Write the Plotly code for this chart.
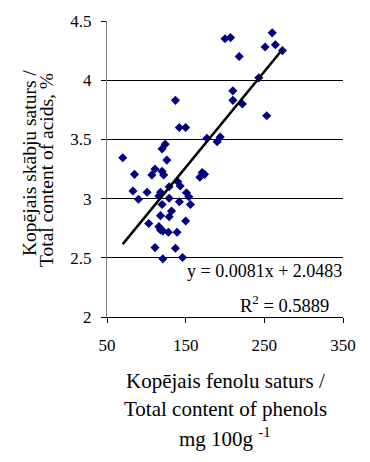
import plotly.graph_objects as go

# Total phenol content (mg 100 g-1) and total acid content (%) per sample
phenols = [260, 264, 251, 273, 200, 207, 218, 243, 210, 210, 222, 253,
           137, 142, 150, 177, 190, 194, 70, 124, 120, 126, 111, 120,
           107, 122, 171, 174, 168, 85, 83, 101, 90, 118, 116, 129,
           140, 143, 151, 154, 156, 129, 142, 120, 132, 118, 129, 103,
           150, 116, 118, 121, 128, 139, 111, 137, 121, 146]
acids = [4.40, 4.30, 4.28, 4.25, 4.35, 4.36, 4.20, 4.02, 3.91, 3.83, 3.80, 3.70,
         3.83, 3.60, 3.60, 3.51, 3.48, 3.52, 3.345, 3.46, 3.42, 3.325, 3.25, 3.23,
         3.20, 3.20, 3.22, 3.205, 3.18, 3.205, 3.064, 3.053, 2.994, 3.053, 3.022, 3.10,
         3.142, 3.106, 3.05, 3.016, 2.95, 3.003, 2.974, 2.95, 2.895, 2.856, 2.847, 2.79,
         2.811, 2.763, 2.735, 2.727, 2.716, 2.716, 2.586, 2.581, 2.491, 2.502]

# Linear trend as reported
slope = 0.0081
intercept = 2.0483
r_squared = 0.5889

x_ticks = [50, 150, 250, 350]
y_ticks = [2, 2.5, 3, 3.5, 4, 4.5]

W, H = 370, 462
L, R, T, B = 107, 27, 21, 145
PW, PH = W - L - R, H - T - B


def px_x(p):
    return (p - L) / PW


def px_y(p):
    return (H - B - p) / PH


SERIF = "Liberation Serif, Times New Roman, serif"

trend_x = [min(phenols), max(phenols)]
trend_y = [slope * v + intercept for v in trend_x]

fig = go.Figure()
fig.add_trace(go.Scatter(
    x=phenols, y=acids, mode="markers",
    marker=dict(symbol="diamond", size=7, color="#000080"),
    showlegend=False,
))
fig.add_trace(go.Scatter(
    x=trend_x, y=trend_y, mode="lines",
    line=dict(color="black", width=2.5),
    showlegend=False,
))

fig.update_xaxes(
    range=[50, 350], tickvals=x_ticks, ticktext=[str(v) for v in x_ticks],
    showgrid=False, zeroline=False,
    showline=True, linecolor="black", linewidth=1,
    ticks="outside", ticklen=5, tickcolor="black",
    ticklabelstandoff=8,
    tickfont=dict(family=SERIF, size=17, color="black"),
)
fig.update_yaxes(
    range=[2, 4.5], tickvals=y_ticks, ticktext=["2", "2.5", "3", "3.5", "4", "4.5"],
    showgrid=True, gridcolor="black", gridwidth=1, zeroline=False,
    showline=True, linecolor="#808080", linewidth=1,
    ticks="outside", ticklen=5, tickcolor="black",
    ticklabelstandoff=6,
    tickfont=dict(family=SERIF, size=17, color="black"),
)

annotations = [
    dict(text=f"y = {slope}x + {intercept}", x=px_x(344), y=px_y(271),
         xanchor="right", yanchor="middle", font=dict(size=18)),
    dict(text=f"R<sup>2</sup> = {r_squared}", x=px_x(331), y=px_y(304),
         xanchor="right", yanchor="middle", font=dict(size=18.5)),
    dict(text="Kopējais fenolu saturs /", x=px_x(225), y=px_y(381),
         xanchor="center", yanchor="middle", font=dict(size=21)),
    dict(text="Total content of phenols", x=px_x(225), y=px_y(409),
         xanchor="center", yanchor="middle", font=dict(size=21)),
    dict(text="mg 100g <sup>-1</sup>", x=px_x(225), y=px_y(437),
         xanchor="center", yanchor="middle", font=dict(size=21)),
    dict(text="Kopējais skābju saturs /", x=px_x(29), y=px_y(163),
         xanchor="center", yanchor="middle", textangle=-90, font=dict(size=19.5)),
    dict(text="Total content of acids, %", x=px_x(46), y=px_y(170),
         xanchor="center", yanchor="middle", textangle=-90, font=dict(size=19.5)),
]
for a in annotations:
    a.update(xref="paper", yref="paper", showarrow=False)
    a["font"].update(family=SERIF, color="black")

fig.update_layout(
    width=W, height=H,
    margin=dict(l=L, r=R, t=T, b=B),
    paper_bgcolor="white", plot_bgcolor="white",
    annotations=annotations,
    showlegend=False,
)

fig.write_html("out.html")
